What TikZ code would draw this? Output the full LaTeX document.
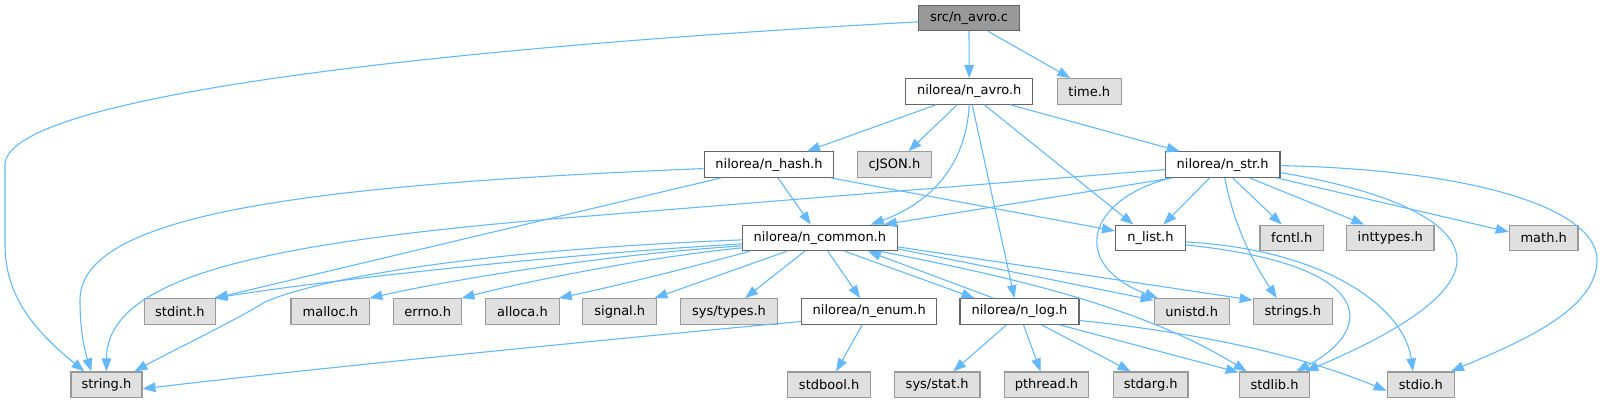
\documentclass[tikz,border=0pt]{standalone}
\usepackage{fontspec}
\setmainfont{DejaVu Sans}
\usetikzlibrary{arrows.meta}
\definecolor{edgec}{HTML}{63B8FF}
\definecolor{sysfill}{HTML}{E0E0E0}
\definecolor{sysdraw}{HTML}{999999}
\definecolor{projdraw}{HTML}{666666}
\definecolor{rootfill}{HTML}{999999}
\begin{document}
\begin{tikzpicture}[x=1pt,y=-1pt, font=\fontsize{13}{15}\selectfont,
 nodebase/.style={rectangle, minimum height=25.5pt, inner sep=0pt, line width=1.2pt, text=black},
 proj/.style={nodebase, draw=projdraw, fill=white},
 sys/.style={nodebase, draw=sysdraw, fill=sysfill},
 rootn/.style={nodebase, draw=projdraw, fill=rootfill},
 dep/.style={draw=edgec, line width=1.1pt, -{Triangle[length=13pt,width=9.5pt]}}]
\useasboundingbox (0,0) rectangle (1609,403);
% nodes
\node[rootn, minimum width=100.6pt] (root) at (969,17.9) {src/n\_avro.c};
\node[proj, minimum width=127pt] (avroh) at (969.2,91.4) {nilorea/n\_avro.h};
\node[sys, minimum width=64pt] (time) at (1089.3,91.4) {time.h};
\node[proj, minimum width=129.5pt] (hash) at (769,164.6) {nilorea/n\_hash.h};
\node[sys, minimum width=73.4pt] (cjson) at (894.5,164.6) {cJSON.h};
\node[proj, minimum width=114.7pt] (str) at (1222.7,164.6) {nilorea/n\_str.h};
\node[proj, minimum width=155pt] (common) at (819.8,237.9) {nilorea/n\_common.h};
\node[proj, minimum width=69.7pt] (list) at (1150.4,237.9) {n\_list.h};
\node[sys, minimum width=63.3pt] (fcntl) at (1291.7,237.9) {fcntl.h};
\node[sys, minimum width=87.3pt] (inttypes) at (1390.3,237.9) {inttypes.h};
\node[sys, minimum width=68.7pt] (math) at (1543.7,237.9) {math.h};
\node[sys, minimum width=70.6pt] (stdint) at (179.9,311.5) {stdint.h};
\node[sys, minimum width=78.8pt] (malloc) at (330.4,311.5) {malloc.h};
\node[sys, minimum width=68.2pt] (errno) at (427.7,311.5) {errno.h};
\node[sys, minimum width=73.6pt] (alloca) at (522.5,311.5) {alloca.h};
\node[sys, minimum width=74pt] (signal) at (619.8,311.5) {signal.h};
\node[sys, minimum width=96.6pt] (systypes) at (729,311.5) {sys/types.h};
\node[proj, minimum width=135pt] (enum) at (869.2,311.5) {nilorea/n\_enum.h};
\node[proj, minimum width=119pt] (log) at (1019.5,311.5) {nilorea/n\_log.h};
\node[sys, minimum width=75pt] (unistd) at (1191.7,311.5) {unistd.h};
\node[sys, minimum width=79pt] (strings) at (1292.8,311.5) {strings.h};
\node[sys, minimum width=71pt] (string) at (106.4,384.8) {string.h};
\node[sys, minimum width=83pt] (stdbool) at (829.1,384.8) {stdbool.h};
\node[sys, minimum width=85.7pt] (sysstat) at (937.2,384.8) {sys/stat.h};
\node[sys, minimum width=84.4pt] (pthread) at (1046.5,384.8) {pthread.h};
\node[sys, minimum width=74.7pt] (stdarg) at (1150.7,384.8) {stdarg.h};
\node[sys, minimum width=70.3pt] (stdlib) at (1274.5,384.8) {stdlib.h};
\node[sys, minimum width=67pt] (stdio) at (1420.8,384.8) {stdio.h};
% edges from src/n_avro.c
\draw[dep] ([yshift=-4pt]root.west) .. controls (450,47) and (5,95) .. (5,165) -- (5,245) .. controls (5,300) and (40,335) .. ([xshift=-22pt]string.north);
\draw[dep] (root.south) -- (avroh.north);
\draw[dep] ([xshift=19pt]root.south) -- ([xshift=-19pt]time.north);
% edges from n_avro.h
\draw[dep] ([xshift=-33pt]avroh.south) -- ([xshift=38pt]hash.north);
\draw[dep] ([xshift=-12pt]avroh.south) -- ([xshift=14pt]cjson.north);
\draw[dep] (avroh.south) .. controls (966,170) and (925,205) .. ([xshift=51pt]common.north);
\draw[dep] ([xshift=3pt]avroh.south) -- ([xshift=-5pt]log.north);
\draw[dep] ([xshift=15pt]avroh.south) -- ([xshift=-17pt]list.north);
\draw[dep] ([xshift=41pt]avroh.south) -- ([xshift=-43pt]str.north);
% edges from n_hash.h
\draw[dep] ([yshift=-4pt]hash.west) .. controls (300,185) and (80,215) .. (80,300) .. controls (80,335) and (86,355) .. ([xshift=-15pt]string.north);
\draw[dep] ([xshift=9pt]hash.south) -- ([xshift=-9pt]common.north);
\draw[dep] ([xshift=-48pt]hash.south) -- ([xshift=-1pt]stdint.north east);
\draw[dep] ([xshift=62pt]hash.south) -- ([yshift=7pt]list.west);
% edges from n_str.h
\draw[dep] ([yshift=-5pt]str.west) -- (540,220) .. controls (250,245) and (107,280) .. (string.north);
\draw[dep] ([xshift=-50pt]str.south) -- ([xshift=64pt]common.north);
\draw[dep] ([xshift=-13pt]str.south) -- ([xshift=13pt]list.north);
\draw[dep] ([xshift=-52pt]str.south) .. controls (1085,200) and (1070,265) .. ([xshift=-34pt]unistd.north);
\draw[dep] ([xshift=2pt]str.south) .. controls (1235,230) and (1255,265) .. ([xshift=-16pt]strings.north);
\draw[dep] ([xshift=10pt]str.south) -- ([xshift=-10pt]fcntl.north);
\draw[dep] ([xshift=27pt]str.south) -- ([xshift=-26pt]inttypes.north);
\draw[dep] ([xshift=54pt]str.south) -- ([yshift=6pt]math.west);
\draw[dep] ([yshift=-8pt]str.east) .. controls (1400,193) and (1457,225) .. (1457,260) .. controls (1457,300) and (1380,340) .. ([xshift=-5pt]stdlib.north east);
\draw[dep] ([yshift=-1pt]str.east) .. controls (1480,170) and (1597,210) .. (1597,260) .. controls (1597,310) and (1520,342) .. ([xshift=-4pt]stdio.north east);
% edges from n_list.h
\draw[dep] ([yshift=-7pt]list.east) .. controls (1380,265) and (1375,330) .. ([xshift=-14pt]stdlib.north east);
\draw[dep] ([yshift=-4pt]list.east) .. controls (1330,250) and (1405,310) .. ([xshift=-8pt]stdio.north);
% edges from n_common.h
\draw[dep] ([yshift=-2pt]common.west) .. controls (480,250) and (320,278) .. (265,302) .. controls (240,318) and (170,352) .. ([xshift=28pt]string.north);
\draw[dep] ([yshift=-6pt]common.west) .. controls (550,255) and (330,280) .. ([xshift=-2pt]stdint.north east);
\draw[dep] ([yshift=-8pt]common.west) .. controls (600,255) and (450,280) .. ([xshift=-1pt]malloc.north east);
\draw[dep] ([yshift=-10pt]common.west) .. controls (640,258) and (520,283) .. ([xshift=-1pt]errno.north east);
\draw[dep] ([xshift=-70pt]common.south) .. controls (700,265) and (620,285) .. ([xshift=-1pt]alloca.north east);
\draw[dep] ([xshift=-33pt]common.south) -- ([xshift=-3pt]signal.north east);
\draw[dep] ([xshift=-15pt]common.south) -- ([xshift=16pt]systypes.north);
\draw[dep] ([xshift=8pt]common.south) -- ([xshift=-9pt]enum.north);
\draw[dep] ([xshift=25pt]common.south) -- ([xshift=-45pt]log.north);
\draw[dep] ([yshift=-11pt]common.east) -- ([yshift=-2pt]unistd.north west);
\draw[dep] ([yshift=-9pt]common.east) -- ([yshift=-2pt]strings.north west);
\draw[dep] ([xshift=60pt]common.south) .. controls (1000,275) and (1140,305) .. ([xshift=8pt]stdlib.north west);
% edges from n_log.h
\draw[dep] ([xshift=-26pt]log.north) -- ([xshift=48pt]common.south);
\draw[dep] ([xshift=-13pt]log.south) -- ([xshift=16pt]sysstat.north);
\draw[dep] ([xshift=4pt]log.south) -- ([xshift=-6pt]pthread.north);
\draw[dep] ([xshift=22pt]log.south) -- ([xshift=-20pt]stdarg.north);
\draw[dep] ([xshift=40pt]log.south) -- ([yshift=-1pt]stdlib.north west);
\draw[dep] ([yshift=-9pt]log.east) .. controls (1200,333) and (1300,355) .. ([yshift=-6pt]stdio.west);
% edges from n_enum.h
\draw[dep] ([yshift=-10pt]enum.west) .. controls (600,340) and (300,370) .. ([yshift=-4pt]string.east);
\draw[dep] ([xshift=-7pt]enum.south) -- ([xshift=7pt]stdbool.north);
\end{tikzpicture}
\end{document}
